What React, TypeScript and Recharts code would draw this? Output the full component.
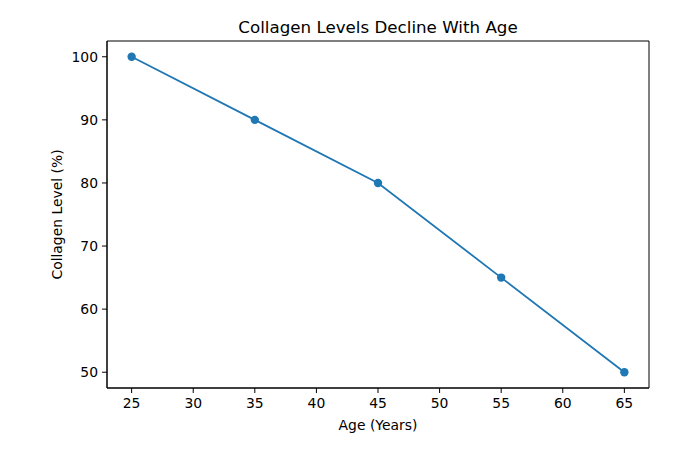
import React from "react";
import { LineChart, Line, XAxis, YAxis, ReferenceArea } from "recharts";

const ages = [25, 35, 45, 55, 65];
const collagen = [100, 90, 80, 65, 50];
const xTicks = [25, 30, 35, 40, 45, 50, 55, 60, 65];
const yTicks = [50, 60, 70, 80, 90, 100];

const data = ages.map((a, i) => ({ age: a, level: collagen[i] }));

const font = "'DejaVu Sans', sans-serif";
const C = "#1f77b4";

export default function App() {
  return (
    <div style={{ position: "absolute", left: 0, top: 0, width: 700, height: 450, background: "#fff", fontFamily: font }}>
      <div style={{ position: "absolute", left: 107, width: 542, top: 17, textAlign: "center", fontSize: 16.7, color: "#000" }}>
        Collagen Levels Decline With Age
      </div>
      <LineChart width={700} height={450} data={data} margin={{ top: 41, right: 51, bottom: 0, left: 0 }}>
        <XAxis
          dataKey="age"
          type="number"
          domain={[23, 67]}
          ticks={xTicks}
          allowDataOverflow
          height={62}
          tick={{ fill: "#000", fontSize: 13.9, fontFamily: font, dy: 3 }}
          tickSize={5}
          tickLine={{ stroke: "#000" }}
          axisLine={{ stroke: "#000" }}
          label={{ value: "Age (Years)", position: "insideBottom", offset: 20, fill: "#000", fontSize: 13.9, fontFamily: font }}
        />
        <YAxis
          type="number"
          domain={[47.5, 102.5]}
          ticks={yTicks}
          allowDataOverflow
          width={107}
          tick={{ fill: "#000", fontSize: 13.9, fontFamily: font, dx: -2 }}
          tickSize={5}
          tickLine={{ stroke: "#000" }}
          axisLine={{ stroke: "#000" }}
          label={{ value: "Collagen Level (%)", angle: -90, position: "insideLeft", offset: 57, fill: "#000", fontSize: 13.9, fontFamily: font, style: { textAnchor: "middle" } }}
        />
        <ReferenceArea x1={23} x2={67} y1={47.5} y2={102.5} fill="none" stroke="#000" strokeWidth={1} ifOverflow="visible" />
        <Line
          dataKey="level"
          stroke={C}
          strokeWidth={1.8}
          isAnimationActive={false}
          dot={{ r: 4.2, fill: C, stroke: C, strokeWidth: 0 }}
          activeDot={false}
        />
      </LineChart>
    </div>
  );
}
